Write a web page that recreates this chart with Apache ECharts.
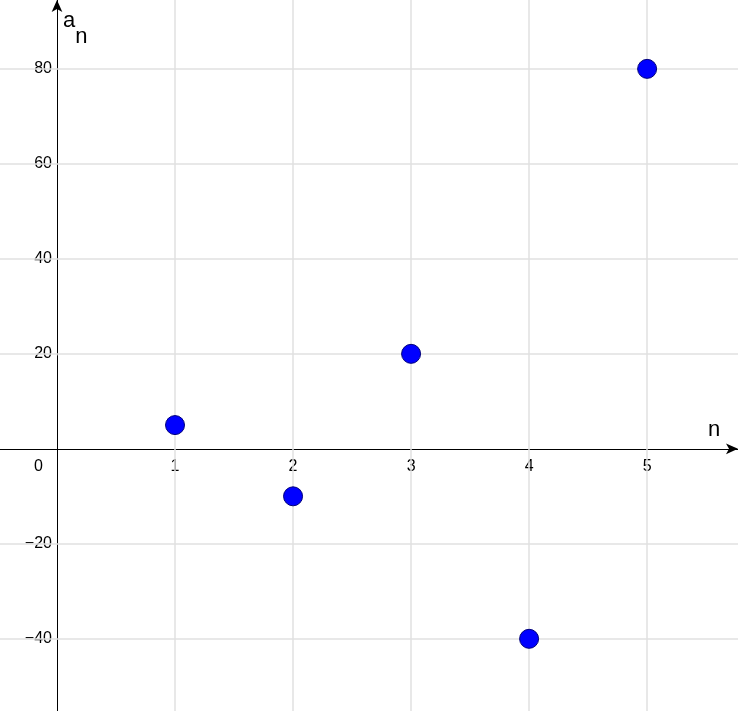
<!DOCTYPE html>
<html>
<head>
<meta charset="utf-8">
<script src="https://cdn.jsdelivr.net/npm/echarts@6/dist/echarts.min.js"></script>
<style>html,body{margin:0;padding:0;background:#fff}#c{width:738px;height:711px}</style>
</head>
<body>
<div id="c"></div>
<script>
var nValues = [1, 2, 3, 4, 5];
var aValues = [5, -10, 20, -40, 80];
var xTicks = [1, 2, 3, 4, 5];
var yTicks = [-40, -20, 20, 40, 60, 80];

var gridColor = '#e0e0e0';
var font = 'Liberation Sans';
var minus = function (v) { return String(v).replace('-', '\u2212'); };

var gridLines = [];
xTicks.forEach(function (v) { gridLines.push({ xAxis: v }); });
yTicks.forEach(function (v) { gridLines.push({ yAxis: v }); });

var chart = echarts.init(document.getElementById('c'));
chart.setOption({
  backgroundColor: '#fff',
  animation: false,
  grid: { left: 0, right: 0, top: 0, bottom: 0, containLabel: false, outerBoundsMode: 'none' },
  xAxis: {
    type: 'value', min: -0.483, max: 5.77,
    splitLine: { show: false }, axisTick: { show: false }, axisLabel: { show: false },
    axisLine: { onZero: true, symbol: ['none', 'arrow'], symbolSize: [8, 12], lineStyle: { color: '#000', width: 1 } }
  },
  yAxis: {
    type: 'value', min: -55.2, max: 94.5,
    splitLine: { show: false }, axisTick: { show: false }, axisLabel: { show: false },
    axisLine: { onZero: true, symbol: ['none', 'arrow'], symbolSize: [8, 12], lineStyle: { color: '#000', width: 1 } }
  },
  series: [{
    type: 'scatter',
    data: nValues.map(function (n, i) { return [n, aValues[i]]; }),
    symbolSize: 19,
    itemStyle: { color: '#0000ff', borderColor: '#00007a', borderWidth: 1, opacity: 1 },
    z: 5,
    markLine: {
      silent: true, symbol: 'none', label: { show: false },
      lineStyle: { color: gridColor, type: 'solid', width: 1.5 },
      data: gridLines, z: 1
    }
  }]
});

// tick labels placed along the axis lines through zero
var texts = [];
var o = chart.convertToPixel({ gridIndex: 0 }, [0, 0]);
xTicks.forEach(function (v) {
  var p = chart.convertToPixel({ gridIndex: 0 }, [v, 0]);
  texts.push({ type: 'text', x: p[0], y: o[1] + 10, style: { text: String(v), fontSize: 16, fontFamily: font, fill: '#000', align: 'center', verticalAlign: 'top' } });
});
yTicks.forEach(function (v) {
  var p = chart.convertToPixel({ gridIndex: 0 }, [0, v]);
  texts.push({ type: 'text', x: o[0] - 5, y: p[1], style: { text: minus(v), fontSize: 16, fontFamily: font, fill: '#000', align: 'right', verticalAlign: 'middle' } });
});
texts.push({ type: 'text', x: o[0] - 14, y: o[1] + 10, style: { text: '0', fontSize: 16, fontFamily: font, fill: '#000', align: 'right', verticalAlign: 'top' } });
texts.push({ type: 'text', x: 708, y: o[1] - 8, style: { text: 'n', fontSize: 22, fontFamily: font, fill: '#000', verticalAlign: 'bottom' } });
texts.push({ type: 'text', x: o[0] + 6, y: 10, style: { text: '{a|a}{s|n}', rich: {
  a: { fontSize: 22, fontFamily: font, fill: '#000', verticalAlign: 'top' },
  s: { fontSize: 22, fontFamily: font, fill: '#000', padding: [16, 0, 0, 0] }
} } });
chart.setOption({ graphic: texts });
</script>
</body>
</html>
